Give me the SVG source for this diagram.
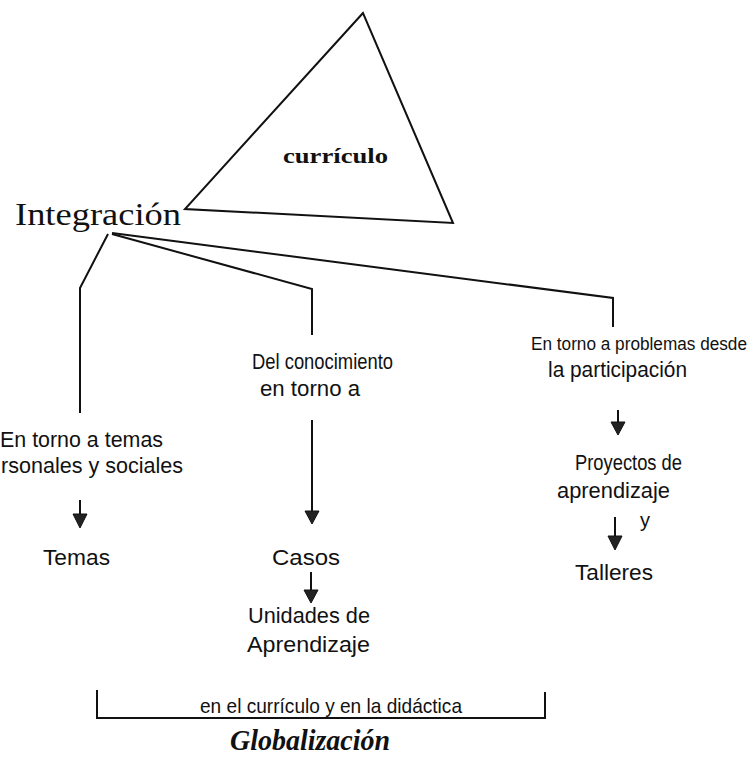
<svg xmlns="http://www.w3.org/2000/svg" width="756" height="772" viewBox="0 0 756 772">
<style>
.sans{font-family:"Liberation Sans",Arial,sans-serif;font-size:22px;fill:#111}
.serif{font-family:"Liberation Serif","Times New Roman",serif;fill:#111}
.ln{fill:none;stroke:#111;stroke-width:2;stroke-linejoin:miter}
.ah{fill:#222;stroke:#111;stroke-width:1}
</style>
<rect width="756" height="772" fill="#fff"/>
<g id="curriculo">
<polygon points="363,13 185,209 453,223" class="ln"/>
<text x="283" y="163" class="serif" style="font-size:22px;font-weight:bold" textLength="105" lengthAdjust="spacingAndGlyphs">currículo</text>
</g>
<g id="integracion">
<text x="15" y="225" class="serif" style="font-size:32px" textLength="166" lengthAdjust="spacingAndGlyphs">Integración</text>
</g>
<g id="temas-personales">
<text x="0" y="447" class="sans" textLength="163" lengthAdjust="spacingAndGlyphs">En torno a temas</text>
<text x="1" y="473" class="sans" textLength="182" lengthAdjust="spacingAndGlyphs">rsonales y sociales</text>
</g>
<g id="temas">
<text x="43" y="565" class="sans" textLength="67" lengthAdjust="spacingAndGlyphs">Temas</text>
</g>
<g id="conocimiento">
<text x="252" y="369" class="sans" textLength="141" lengthAdjust="spacingAndGlyphs">Del conocimiento</text>
<text x="260" y="396" class="sans" textLength="100" lengthAdjust="spacingAndGlyphs">en torno a</text>
</g>
<g id="casos">
<text x="272" y="565" class="sans" textLength="68" lengthAdjust="spacingAndGlyphs">Casos</text>
</g>
<g id="unidades">
<text x="248" y="623" class="sans" textLength="122" lengthAdjust="spacingAndGlyphs">Unidades de</text>
<text x="247" y="652" class="sans" textLength="123" lengthAdjust="spacingAndGlyphs">Aprendizaje</text>
</g>
<g id="problemas">
<text x="531" y="350" class="sans" style="font-size:17.5px" textLength="216" lengthAdjust="spacingAndGlyphs">En torno a problemas desde</text>
<text x="548" y="377" class="sans" textLength="139" lengthAdjust="spacingAndGlyphs">la participación</text>
</g>
<g id="proyectos">
<text x="575" y="470" class="sans" textLength="107" lengthAdjust="spacingAndGlyphs">Proyectos de</text>
<text x="557" y="498" class="sans" textLength="113" lengthAdjust="spacingAndGlyphs">aprendizaje</text>
<text x="640" y="527" class="sans" style="font-size:20px">y</text>
</g>
<g id="talleres">
<text x="575" y="580" class="sans" textLength="78" lengthAdjust="spacingAndGlyphs">Talleres</text>
</g>
<g id="globalizacion">
<path d="M97 690 V718 H545 V692" class="ln"/>
<text x="200" y="713" class="sans" style="font-size:21px" textLength="262" lengthAdjust="spacingAndGlyphs">en el currículo y en la didáctica</text>
<text x="230" y="750" class="serif" style="font-size:29px;font-weight:bold;font-style:italic" textLength="160" lengthAdjust="spacingAndGlyphs">Globalización</text>
</g>
<g id="connectors">
<path d="M108 234 L80 288 V413" class="ln"/>
<path d="M112 234 L312 289 V335" class="ln"/>
<path d="M112 233 L613 298 V327" class="ln"/>
<path d="M80 500 V516" class="ln"/>
<polygon points="73,514 87,514 80,528" class="ah"/>
<path d="M312 420 V513" class="ln"/>
<polygon points="305,511 319,511 312,524" class="ah"/>
<path d="M311 572 V592" class="ln"/>
<polygon points="304,590 318,590 311,603" class="ah"/>
<path d="M618 410 V424" class="ln"/>
<polygon points="611,422 625,422 618,435" class="ah"/>
<path d="M615 517 V538" class="ln"/>
<polygon points="608,536 622,536 615,550" class="ah"/>
</g>
</svg>
